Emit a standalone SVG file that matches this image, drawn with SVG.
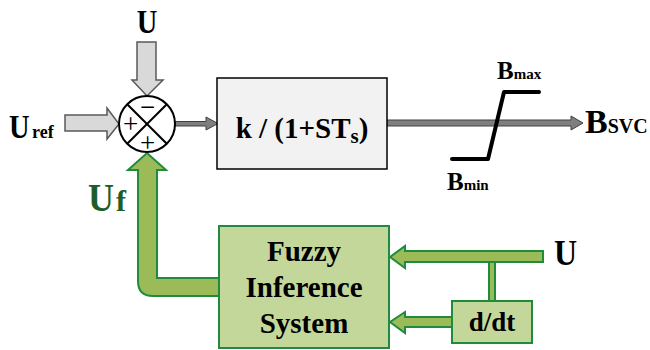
<svg xmlns="http://www.w3.org/2000/svg" width="650" height="350" viewBox="0 0 650 350">
<style>
text{font-family:"Liberation Serif","Times New Roman",serif;font-weight:bold;fill:#000}
.big{font-size:30px}
.sub{font-size:18px}
.lbl{font-size:29px}
.pm{font-size:27px;font-weight:normal}
.gray{fill:#d9d9d9;stroke:#595959;stroke-width:1.5}
.dark{fill:#7f7f7f;stroke:#404040;stroke-width:1}
.green{fill:#9bbb59;stroke:#1e8c3c;stroke-width:2}
.gbox{fill:#c4d79b;stroke:#1e8c3c;stroke-width:2}
</style>
<rect width="650" height="350" fill="#fff"/>
<g id="connectors">
  <polygon class="gray" points="65,115 107,115 107,108 119,124 107,139 107,131 65,131"/>
  <polygon class="gray" points="137,42 156,42 156,80 163,80 147,96 132,80 137,80"/>
  <polygon class="dark" points="175,121.5 206,121.5 206,117 218,123.5 206,130 206,126 175,126"/>
  <polygon class="dark" points="387,120 571,120 571,116 583,123 571,130 571,126 387,126"/>
  <path class="green" d="M219,278 L157,278 L157,170 L166,170 L147,153 L128,170 L138,170 L138,281 Q138,296 153,296 L219,296 Z"/>
  <polygon class="green" points="543,251 405,251 405,246 390,257 405,268 405,262 543,262"/>
  <rect class="green" x="489" y="262" width="6" height="39"/>
  <polygon class="green" points="452,317 405,317 405,312 390,322 405,333 405,327 452,327"/>
</g>
<g id="labels">
  <text class="big" transform="translate(147,33) scale(0.95,1.15)" text-anchor="middle">U</text>
  <text class="big" transform="translate(9,138) scale(0.95,1.15)">U</text>
  <text class="sub" x="32" y="138">ref</text>
  <text transform="translate(88,211) scale(1,1.12)" style="fill:#1b5e2b;font-size:36px">U</text>
  <text x="116" y="211" style="fill:#1b5e2b;font-size:30px">f</text>
  <text transform="translate(554,265) scale(1,1.1)" style="font-size:32px">U</text>
  <text x="585" y="133"><tspan style="font-size:34px">B</tspan><tspan style="font-size:20px">SVC</tspan></text>
</g>
<g id="sum">
  <circle cx="147" cy="124" r="28" fill="#fff" stroke="#000" stroke-width="2"/>
  <line x1="127.2" y1="104.2" x2="166.8" y2="143.8" stroke="#000" stroke-width="2"/>
  <line x1="166.8" y1="104.2" x2="127.2" y2="143.8" stroke="#000" stroke-width="2"/>
  <text class="pm" x="130.5" y="133" text-anchor="middle">+</text>
  <text class="pm" x="147.5" y="116" text-anchor="middle">−</text>
  <text class="pm" x="147.5" y="152" text-anchor="middle">+</text>
</g>
<g id="tf_block">
  <rect x="217" y="78" width="170" height="91" fill="#f2f2f2" stroke="#000" stroke-width="1.5"/>
  <text class="lbl" x="302" y="138" text-anchor="middle">k / (1+ST<tspan style="font-size:21px" dy="5">s</tspan><tspan dy="-5">)</tspan></text>
</g>
<g id="saturation">
  <polyline points="452,159 488,159 504,92 539,92" fill="none" stroke="#000" stroke-width="4" stroke-linecap="round" stroke-linejoin="round"/>
  <text x="497" y="79"><tspan style="font-size:25px">B</tspan><tspan style="font-size:15px">max</tspan></text>
  <text x="447" y="190"><tspan style="font-size:25px">B</tspan><tspan style="font-size:15px">min</tspan></text>
</g>
<g id="fis">
  <rect class="gbox" x="219" y="226" width="170" height="122"/>
  <text class="lbl" x="304" y="261" text-anchor="middle">Fuzzy</text>
  <text class="lbl" x="304" y="297" text-anchor="middle">Inference</text>
  <text class="lbl" x="304" y="333" text-anchor="middle">System</text>
</g>
<g id="ddt">
  <rect class="gbox" x="452" y="301" width="80" height="42"/>
  <text x="492" y="331" text-anchor="middle" style="font-size:27px">d/dt</text>
</g>
</svg>
